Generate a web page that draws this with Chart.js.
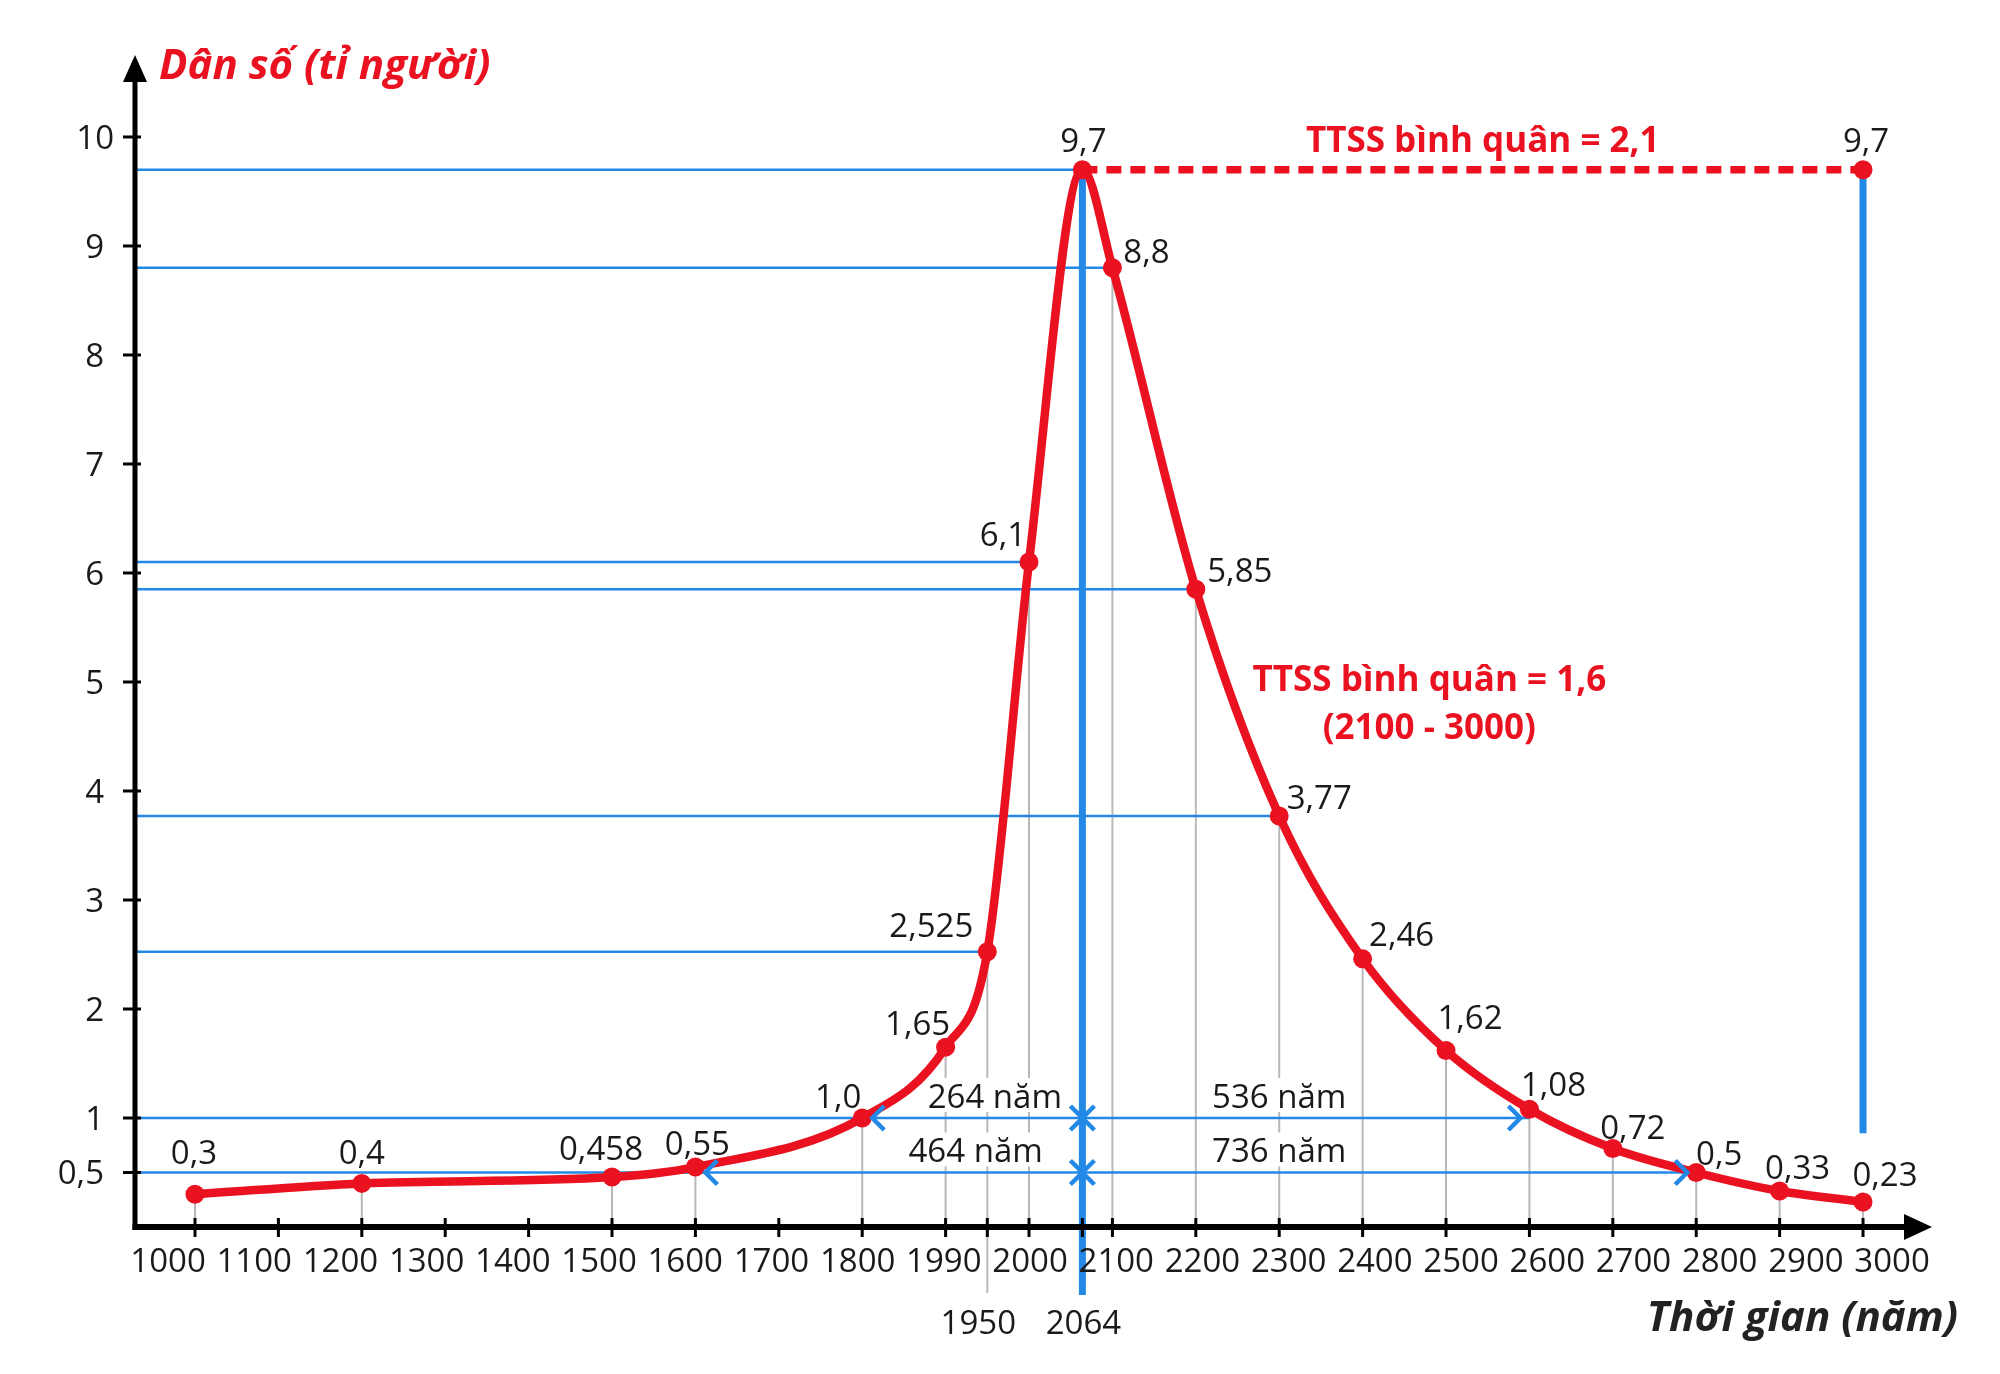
<!DOCTYPE html>
<html><head><meta charset="utf-8">
<script src="https://cdn.jsdelivr.net/npm/chart.js@4.4.1/dist/chart.umd.min.js"></script>
<style>html,body{margin:0;padding:0;background:#fff;}canvas{display:block;}</style>
</head><body>
<canvas id="c" width="2000" height="1374" style="width:2000px;height:1374px"></canvas>
<script>
// ---------- DATA ----------
const years      = [1000, 1200, 1500, 1600, 1800, 1900, 1950, 2000, 2064, 2100, 2200, 2300, 2400, 2500, 2600, 2700, 2800, 2900, 3000];
const population = [0.3, 0.4, 0.458, 0.55, 1.0, 1.65, 2.525, 6.1, 9.7, 8.8, 5.85, 3.77, 2.46, 1.62, 1.08, 0.72, 0.5, 0.33, 0.23];
const valueLabels = ['0,3','0,4','0,458','0,55','1,0','1,65','2,525','6,1','9,7','8,8','5,85','3,77','2,46','1,62','1,08','0,72','0,5','0,33','0,23'];
const peakYear = 2064;
const plateauYears  = [2064, 3000];
const plateauValues = [9.7, 9.7];
const plateauLabels = ['', '9,7'];

const xTickYears  = [1000,1100,1200,1300,1400,1500,1600,1700,1800,1900,2000,2100,2200,2300,2400,2500,2600,2700,2800,2900,3000];
const xTickLabels = ['1000','1100','1200','1300','1400','1500','1600','1700','1800','1990','2000','2100','2200','2300','2400','2500','2600','2700','2800','2900','3000'];
const xExtraYears  = [1950, 2064];
const xExtraLabels = ['1950', '2064'];
const yTickValues = [0.5, 1, 2, 3, 4, 5, 6, 7, 8, 9, 10];
const yTickLabels = ['0,5','1','2','3','4','5','6','7','8','9','10'];

// horizontal blue guides: value -> year where they end
const hGuideValues = [9.7, 8.8, 6.1, 5.85, 3.77, 2.525, 1.0, 0.5];
const hGuideEnds   = [2064, 2100, 2000, 2200, 2300, 1950, 2600, 2800];
// interval arrows
const spanStarts = [1800, 2064, 1600, 2064];
const spanEnds   = [2064, 2600, 2064, 2800];
const spanValues = [1.0, 1.0, 0.5, 0.5];
const spanTexts  = ['264 năm', '536 năm', '464 năm', '736 năm'];
const spanTextYears = [1959, 2300, 1936, 2300];
// thick blue verticals
const vGuideYears = [2064, 3000];
const vGuideTop   = [9.7, 9.7];
const vGuideBottom = [null, 0.86];   // null = runs below the axis

const noteTexts  = ['TTSS bình quân = 2,1', 'TTSS bình quân = 1,6', '(2100 - 3000)'];
const noteYears  = [2544, 2480, 2480];
const noteValues = [9.98, 5.04, 4.6];

// ---------- STYLE ----------
const RED = '#ea1220', BLUE = '#2389e6', GRAY = '#b8b8b8', INK = '#1a1a1a';
const FONT = '"Open Sans", "Noto Sans", sans-serif';
const F = '33px ' + FONT;
const labelDx = [-1, 0, -11, 2, -24, -28, -56, -26, 1, 34, 44, 40, 39, 24, 24, 20, 23, 18, 22];
const labelDy = [-42, -31, -29, -24, -22, -24, -27, -28, -30, -17, -19, -19, -25, -33, -25, -22, -19, -24, -28];
const yLabelDx = [0, 0, 0, 0, 0, 0, 0, 0, 0, 0, 10];

function txt(ctx, s, x, yc, font, color, align) {
  ctx.font = font; ctx.fillStyle = color; ctx.textAlign = align || 'center';
  ctx.textBaseline = 'alphabetic';
  const cap = ctx.measureText('0').actualBoundingBoxAscent;
  ctx.fillText(s, x, yc + cap / 2);
}
function chevron(ctx, tipX, y, dir) {
  ctx.beginPath();
  ctx.moveTo(tipX - dir * 12, y - 12);
  ctx.lineTo(tipX, y);
  ctx.lineTo(tipX - dir * 12, y + 12);
  ctx.stroke();
}

const guides = {
  id: 'guides',
  beforeDatasetsDraw(chart) {
    const ctx = chart.ctx, xs = chart.scales.x, ys = chart.scales.y;
    const X = v => xs.getPixelForValue(v), Y = v => ys.getPixelForValue(v);
    const left = chart.chartArea.left, y0 = Y(0);
    ctx.save();
    ctx.lineCap = 'butt';
    ctx.strokeStyle = GRAY; ctx.lineWidth = 2;
    years.forEach((yr, i) => {
      if (yr === peakYear) return;
      ctx.beginPath();
      ctx.moveTo(X(yr), Y(population[i]));
      ctx.lineTo(X(yr), yr === 1950 ? y0 + 66 : y0);
      ctx.stroke();
    });
    ctx.strokeStyle = BLUE; ctx.lineWidth = 2.5;
    hGuideValues.forEach((v, i) => {
      ctx.beginPath(); ctx.moveTo(left, Y(v)); ctx.lineTo(X(hGuideEnds[i]), Y(v)); ctx.stroke();
    });
    ctx.lineWidth = 7;
    vGuideYears.forEach((yr, i) => {
      ctx.beginPath();
      ctx.moveTo(X(yr), Y(vGuideTop[i]));
      ctx.lineTo(X(yr), vGuideBottom[i] === null ? y0 + 68 : Y(vGuideBottom[i]));
      ctx.stroke();
    });
    spanTexts.forEach((s, i) => {
      ctx.font = F;
      const w = ctx.measureText(s).width;
      const cx = X(spanTextYears[i]), cy = Y(spanValues[i]) - 22;
      ctx.fillStyle = '#fff';
      ctx.fillRect(cx - w / 2 - 4, cy - 18, w + 8, 34);
      txt(ctx, s, cx, cy, F, INK);
    });
    ctx.restore();
  },
  afterDatasetsDraw(chart) {
    const ctx = chart.ctx, xs = chart.scales.x, ys = chart.scales.y;
    const X = v => xs.getPixelForValue(v), Y = v => ys.getPixelForValue(v);
    const ca = chart.chartArea, y0 = Y(0), xl = ca.left;
    ctx.save();
    ctx.strokeStyle = BLUE; ctx.lineWidth = 4.5; ctx.lineJoin = 'miter';
    spanStarts.forEach((s, i) => {
      const e = spanEnds[i], yy = Y(spanValues[i]);
      chevron(ctx, X(s) + (s === peakYear ? 0 : 10), yy, -1);
      chevron(ctx, X(e) - (e === peakYear ? 0 : 9), yy, 1);
    });
    // axes
    ctx.strokeStyle = '#000'; ctx.fillStyle = '#000';
    ctx.lineWidth = 5;
    ctx.beginPath(); ctx.moveTo(xl, y0 + 3); ctx.lineTo(xl, ca.top + 20); ctx.stroke();
    ctx.beginPath(); ctx.moveTo(xl - 12, ca.top + 27); ctx.lineTo(xl, ca.top); ctx.lineTo(xl + 12, ca.top + 27); ctx.closePath(); ctx.fill();
    ctx.lineWidth = 6;
    ctx.beginPath(); ctx.moveTo(xl - 2.5, y0); ctx.lineTo(ca.right - 20, y0); ctx.stroke();
    ctx.beginPath(); ctx.moveTo(ca.right - 28, y0 - 13); ctx.lineTo(ca.right, y0); ctx.lineTo(ca.right - 28, y0 + 13); ctx.closePath(); ctx.fill();
    ctx.lineWidth = 3;
    xTickYears.concat(xExtraYears).forEach(yr => {
      ctx.beginPath(); ctx.moveTo(X(yr), y0 - 9); ctx.lineTo(X(yr), y0 + 10); ctx.stroke();
    });
    yTickValues.forEach(v => {
      ctx.beginPath(); ctx.moveTo(xl - 12, Y(v)); ctx.lineTo(xl + 6, Y(v)); ctx.stroke();
    });
    const pc = X(1963);
    xTickYears.forEach((yr, i) => {
      const p = X(yr);
      txt(ctx, xTickLabels[i], p + (p - pc) * 0.0336, y0 + 33, F, INK);
    });
    xExtraYears.forEach((yr, i) => {
      txt(ctx, xExtraLabels[i], X(yr) + (yr === 1950 ? -9 : 1), y0 + 95, F, INK);
    });
    yTickValues.forEach((v, i) => {
      txt(ctx, yTickLabels[i], 104 + yLabelDx[i], Y(v), F, INK, 'right');
    });
    years.forEach((yr, i) => {
      txt(ctx, valueLabels[i], X(yr) + labelDx[i], Y(population[i]) + labelDy[i], F, INK);
    });
    plateauYears.forEach((yr, i) => {
      if (plateauLabels[i]) txt(ctx, plateauLabels[i], X(yr) + 3, Y(plateauValues[i]) - 30, F, INK);
    });
    noteTexts.forEach((s, i) => {
      txt(ctx, s, X(noteYears[i]), Y(noteValues[i]), 'bold 35px ' + FONT, RED);
    });
    ctx.font = 'italic bold 42px ' + FONT; ctx.fillStyle = RED; ctx.textAlign = 'left'; ctx.textBaseline = 'alphabetic';
    ctx.fillText('Dân số (tỉ người)', 159, 79);
    ctx.fillStyle = '#222'; ctx.textAlign = 'right';
    ctx.fillText('Thời gian (năm)', 1958, 1331);
    ctx.restore();
  }
};

new Chart(document.getElementById('c'), {
  type: 'line',
  data: {
    datasets: [
      {
        data: years.map((x, i) => ({ x: x, y: population[i] })),
        borderColor: RED, backgroundColor: RED, borderWidth: 8.5,
        pointRadius: 9.5, pointBackgroundColor: RED, pointBorderWidth: 0,
        cubicInterpolationMode: 'monotone', clip: false, order: 1
      },
      {
        data: plateauYears.map((x, i) => ({ x: x, y: plateauValues[i] })),
        borderColor: RED, borderWidth: 7.5, borderDash: [15, 9],
        pointRadius: [0, 9.5], pointBackgroundColor: RED, pointBorderWidth: 0,
        tension: 0, clip: false, order: 2
      }
    ]
  },
  options: {
    responsive: false, animation: false, devicePixelRatio: 1,
    layout: { padding: { left: 135, right: 68, top: 55, bottom: 147 } },
    scales: {
      x: { type: 'linear', min: 928.06, max: 3082.7, display: false },
      y: { type: 'linear', min: 0, max: 10.752, display: false }
    },
    plugins: { legend: { display: false }, tooltip: { enabled: false } }
  },
  plugins: [guides]
});
</script>
</body></html>
